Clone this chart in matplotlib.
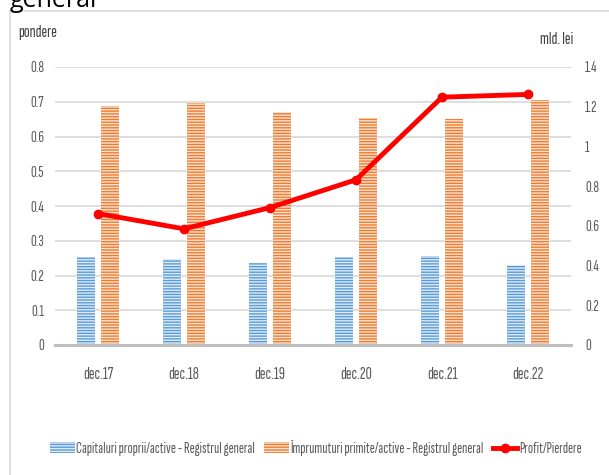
import matplotlib
matplotlib.use("Agg")
import matplotlib.pyplot as plt
import numpy as np
from matplotlib.patches import Rectangle

plt.rcParams["font.family"] = ["Sofia Sans Extra Condensed", "DejaVu Sans"]
plt.rcParams["hatch.linewidth"] = 1.0

# ── data ──
categories = ["dec.17", "dec.18", "dec.19", "dec.20", "dec.21", "dec.22"]
capital_active = [0.252, 0.247, 0.235, 0.252, 0.257, 0.230]
imprumut_active = [0.687, 0.697, 0.670, 0.653, 0.650, 0.705]
profit = [0.662, 0.585, 0.692, 0.832, 1.248, 1.262]

left_ticks = [0, 0.1, 0.2, 0.3, 0.4, 0.5, 0.6, 0.7, 0.8]
left_labels = ["0", "0.1", "0.2", "0.3", "0.4", "0.5", "0.6", "0.7", "0.8"]
right_ticks = [0, 0.2, 0.4, 0.6, 0.8, 1.0, 1.2, 1.4]
right_labels = ["0", "0.2", "0.4", "0.6", "0.8", "1", "1.2", "1.4"]

BLUE = "#5B9BD5"
ORANGE = "#ED7D31"
RED = "#FF0000"
GRID = "#D9D9D9"
TXT = "#595959"

W, H = 609, 475
fig = plt.figure(figsize=(W / 100, H / 100), dpi=100)

# chart frame and cut-off title from the page
fig.patches.append(Rectangle((10 / W, -0.05), 1.0, (H - 11) / H + 0.05,
                             transform=fig.transFigure, fill=False,
                             edgecolor="#D9D9D9", linewidth=1.2))
fig.text(10 / W, (H - 7) / H, "general", fontsize=18, color="black",
         family=["Open Sans", "DejaVu Sans"], va="baseline")

ax = fig.add_axes([55 / W, (H - 345) / H, (571 - 55) / W, (345 - 67) / H])
x = np.arange(len(categories))
bw = 0.215
ax.bar(x - 0.142, capital_active, bw, color=BLUE, edgecolor="#DDEBF7",
       hatch="------", linewidth=0, label="Capitaluri proprii/active - Registrul general", zorder=2)
ax.bar(x + 0.142, imprumut_active, bw, color=ORANGE, edgecolor="#FBE1D0",
       hatch="------", linewidth=0, label="Împrumuturi primite/active - Registrul general", zorder=2)

ax.set_xlim(-0.5, len(categories) - 0.5)
ax.set_ylim(0, 0.8)
ax.set_yticks(left_ticks)
ax.set_yticklabels(left_labels)
ax.set_xticks(x)
ax.set_xticklabels(categories)
ax.grid(axis="y", color=GRID, linewidth=1.2, zorder=0)
ax.set_axisbelow(True)
for s in ["top", "right", "left"]:
    ax.spines[s].set_visible(False)
ax.spines["bottom"].set_color("#BFBFBF")
ax.spines["bottom"].set_linewidth(2.2)
ax.spines["bottom"].set_zorder(3)
ax.tick_params(length=0, labelsize=11.5, colors=TXT)
ax.tick_params(axis="y", pad=8)
ax.tick_params(axis="x", pad=16, labelsize=12.5)

ax2 = ax.twinx()
ax2.plot(x, profit, color=RED, linewidth=3.5, marker="o", markersize=6,
         label="Profit/Pierdere", zorder=4)
ax2.set_ylim(0, 1.4)
ax2.set_yticks(right_ticks)
ax2.set_yticklabels(right_labels)
for s in ax2.spines.values():
    s.set_visible(False)
ax2.tick_params(length=0, labelsize=11.5, colors=TXT, pad=10)

fig.text(18 / W, (H - 33) / H, "pondere", fontsize=12.5, color="#404040", va="center")
fig.text(540 / W, (H - 39) / H, "mld. lei", fontsize=12.5, color="#404040", va="center")

h1, l1 = ax.get_legend_handles_labels()
h2, l2 = ax2.get_legend_handles_labels()
fig.legend(h1 + h2, l1 + l2, loc="center", bbox_to_anchor=(316 / W, (H - 448) / H),
           ncol=3, frameon=False, fontsize=11, handlelength=1.6, handletextpad=0.1,
           columnspacing=0.6, labelcolor=TXT)

fig.savefig("out.png", dpi=100)
